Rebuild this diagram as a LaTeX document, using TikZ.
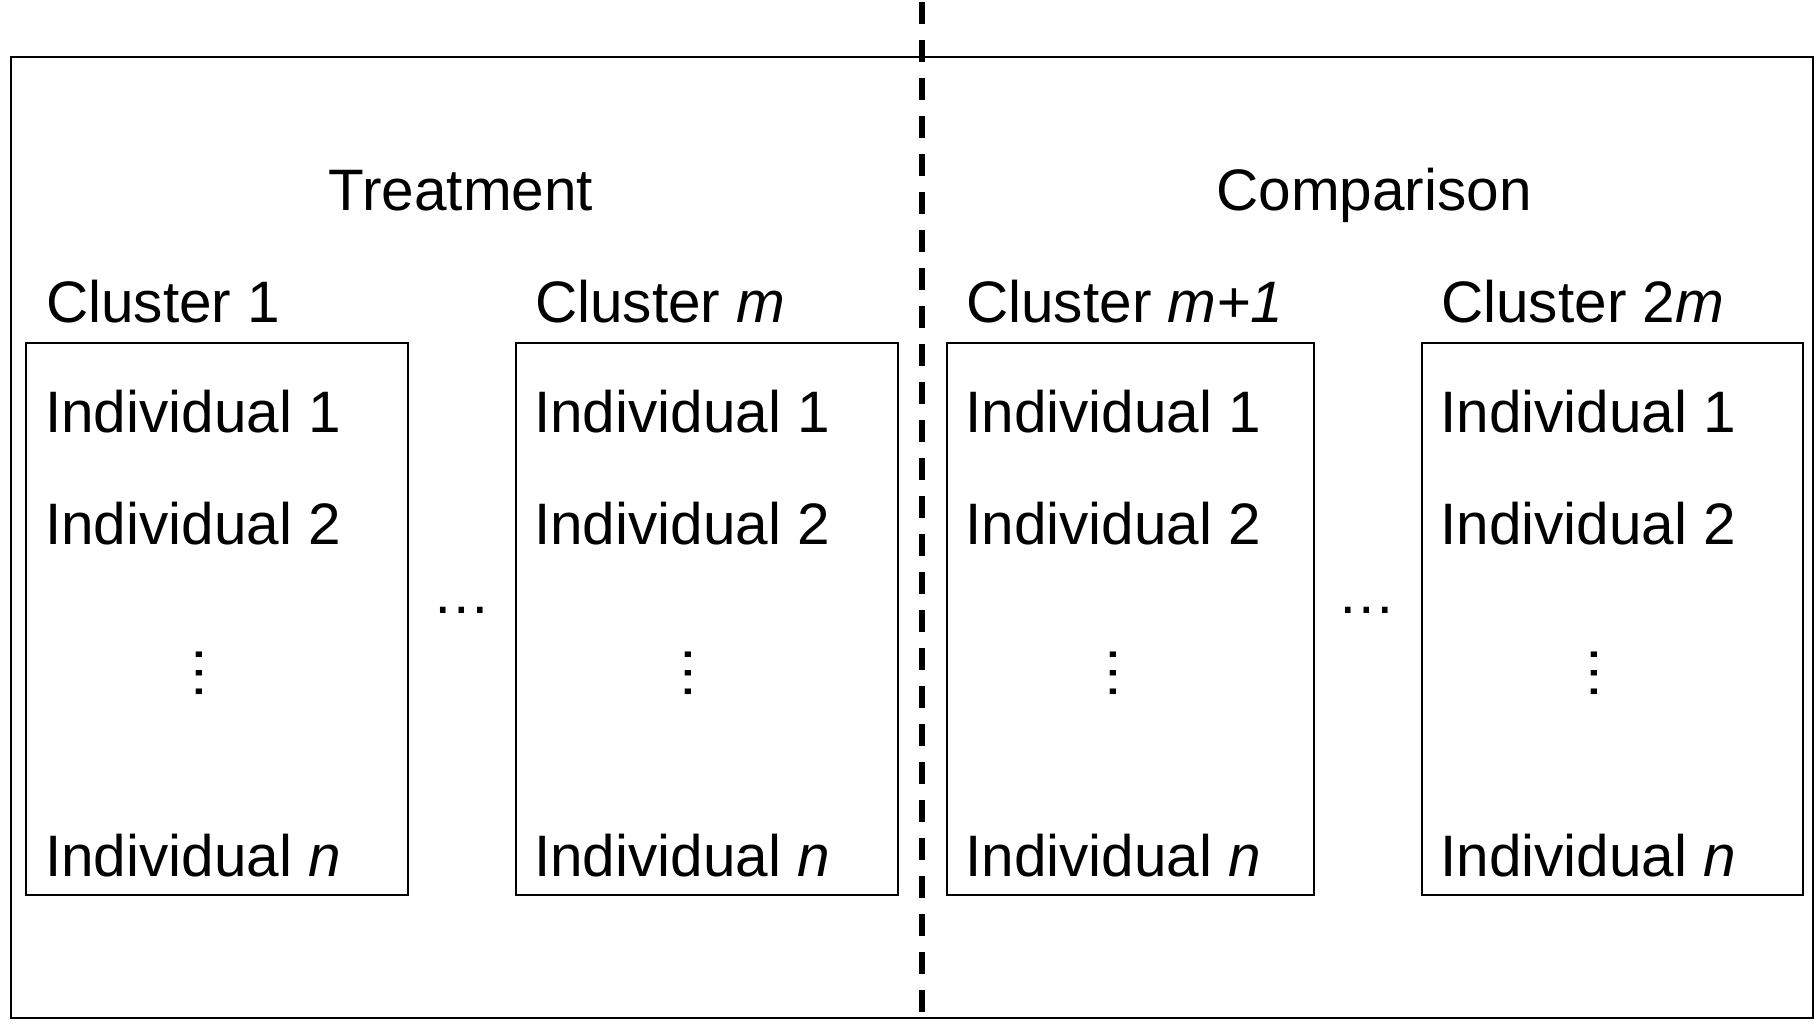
\documentclass[tikz,border=0pt]{standalone}
\usepackage{fontspec}
\setmainfont{Liberation Sans}
\begin{document}
\begin{tikzpicture}[x=1pt,y=-1pt,
  lbl/.style={inner sep=0pt, font=\fontsize{58.5}{70}\selectfont},
  txt/.style={lbl, anchor=base west},
  clbox/.style={draw, line width=2.2pt, minimum width=#1, minimum height=552pt, inner sep=0pt, anchor=north west},
  framebox/.style={draw, line width=2.4pt, inner sep=0pt, anchor=north west, minimum width=1802pt, minimum height=961pt},
  divider/.style={line width=5.6pt, dash pattern=on 22pt off 16pt},
  vdot/.style={lbl, rotate=90},
]
\useasboundingbox (0,0) rectangle (1814,1027);
% outer frame
\node[framebox] (frame) at (10,56) {};
% divider
\coordinate (dtop) at (922,2);
\coordinate (dbot) at (922,1027);
\draw[divider] (dtop) -- (dbot);
% group titles
\node[lbl, anchor=base] (treat) at (461,211) {Treatment};
\node[lbl, anchor=base] (comp) at (1374,211) {Comparison};
% cluster boxes
\node[clbox=382pt] (b1) at (25,342) {};
\node[clbox=382pt] (b2) at (515,342) {};
\node[clbox=367pt] (b3) at (946,342) {};
\node[clbox=381pt] (b4) at (1421,342) {};
% cluster labels
\node[txt] (c1) at (46,322) {Cluster 1};
\node[txt] (c2) at (535,322) {Cluster \textit{m}};
\node[txt] (c3) at (966,322) {Cluster \textit{m+1}};
\node[txt] (c4) at (1441,322) {Cluster 2\textit{m}};
% individuals
\node[txt] (b1i1) at (45,432) {Individual 1};
\node[txt] (b1i2) at (45,544) {Individual 2};
\node[txt] (b1in) at (45,876) {Individual \textit{n}};
\node[txt] (b2i1) at (534,432) {Individual 1};
\node[txt] (b2i2) at (534,544) {Individual 2};
\node[txt] (b2in) at (534,876) {Individual \textit{n}};
\node[txt] (b3i1) at (965,432) {Individual 1};
\node[txt] (b3i2) at (965,544) {Individual 2};
\node[txt] (b3in) at (965,876) {Individual \textit{n}};
\node[txt] (b4i1) at (1440,432) {Individual 1};
\node[txt] (b4i2) at (1440,544) {Individual 2};
\node[txt] (b4in) at (1440,876) {Individual \textit{n}};
% vertical dots
\node[vdot] (v1) at (199,673) {…};
\node[vdot] (v2) at (688,673) {…};
\node[vdot] (v3) at (1113,673) {…};
\node[vdot] (v4) at (1594,673) {…};
% horizontal dots
\node[lbl] (h1) at (462,610) {…};
\node[lbl] (h2) at (1367,610) {…};
\end{tikzpicture}
\end{document}
